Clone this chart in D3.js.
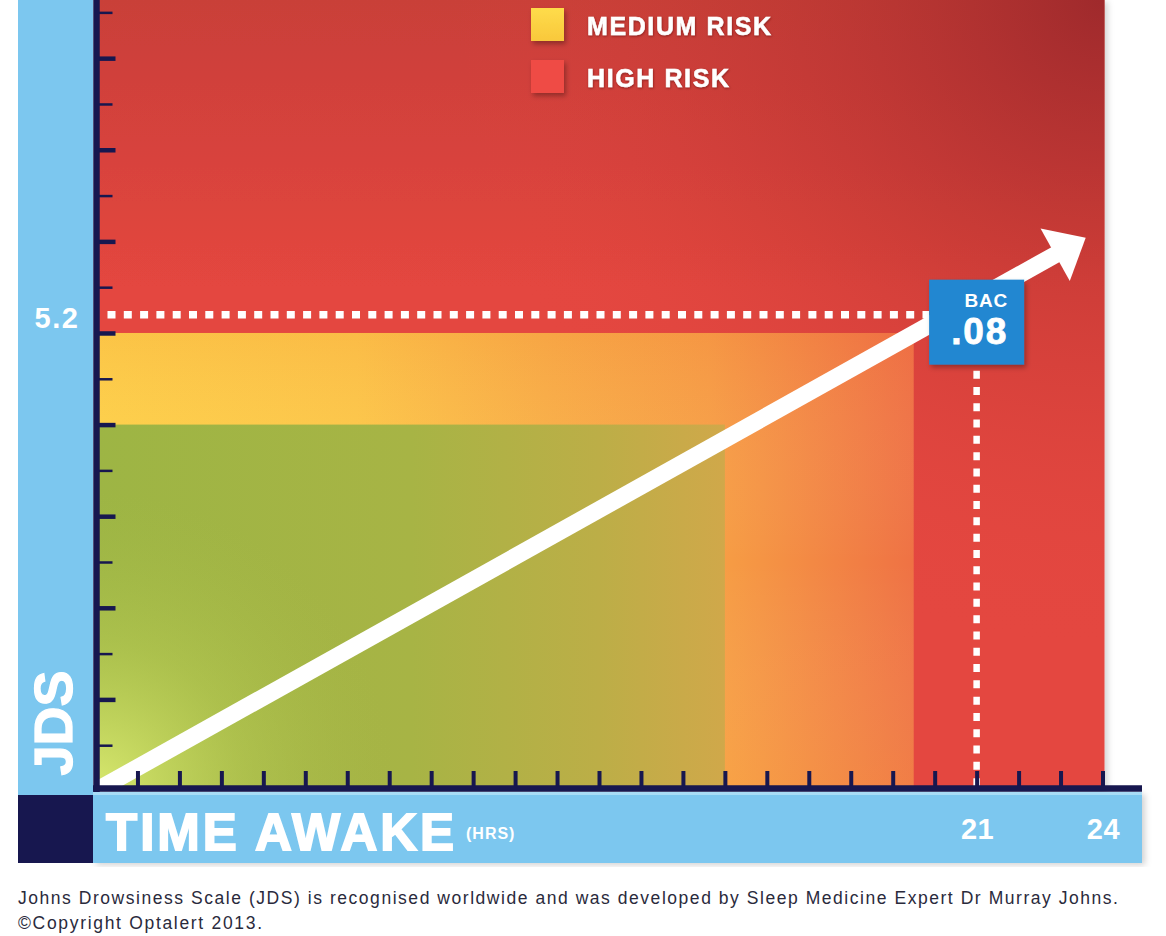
<!DOCTYPE html>
<html><head><meta charset="utf-8">
<script src="https://cdn.jsdelivr.net/npm/d3@7"></script>
<style>
body{margin:0;background:#fff;}
svg{display:block;font-family:"Liberation Sans",Arial,Helvetica,sans-serif;}
</style>
</head><body><svg id="c" width="1166" height="936"></svg>
<script>
// ---------------- data ----------------
const zoneNames   = ["HIGH RISK", "MEDIUM RISK", "LOW RISK"];
const zoneHrsMax  = [24, 19.5, 15];      // hours awake where each zone ends
const zoneJdsMax  = [8.635, 5, 4];       // JDS where each zone ends
const legendNames = ["MEDIUM RISK", "HIGH RISK"];
const trendHrs    = [0, 23.6];
const trendJds    = [0, 6.04];
const xTickValues = d3.range(1, 25);                 // 1..24 hrs
const yTickValues = d3.range(1, 18).map(i => i * 0.5); // 0.5..8.5 JDS
const xTickLabels = [21, 24];
const yTickLabels = ["5.2"];
const bacHrs = 21, bacJds = 5.2;
const bacLabel = "BAC", bacValue = ".08";
const footerLines = [
  "Johns Drowsiness Scale (JDS) is recognised worldwide and was developed by Sleep Medicine Expert Dr Murray Johns.",
  "\u00A9Copyright Optalert 2013."
];

// ---------------- setup ----------------
const svg = d3.select("#c");
const x = d3.scaleLinear().domain([0, 24]).range([95.5, 1102.5]);
const y = d3.scaleLinear().domain([0, 8.635]).range([791, 0]);
const NAVY = "#17174f", BLUE = "#7cc7ef";

const defs = svg.append("defs");
function lin(id, x1, y1, x2, y2, stops) {
  const g = defs.append("linearGradient").attr("id", id).attr("gradientUnits", "userSpaceOnUse")
    .attr("x1", x1).attr("y1", y1).attr("x2", x2).attr("y2", y2);
  stops.forEach(s => g.append("stop").attr("offset", s[0]).attr("stop-color", s[1]).attr("stop-opacity", s[2] == null ? 1 : s[2]));
}
function rad(id, cx, cy, r, stops) {
  const g = defs.append("radialGradient").attr("id", id).attr("gradientUnits", "userSpaceOnUse")
    .attr("cx", cx).attr("cy", cy).attr("r", r);
  stops.forEach(s => g.append("stop").attr("offset", s[0]).attr("stop-color", s[1]).attr("stop-opacity", s[2] == null ? 1 : s[2]));
}
lin("redV", 0, 0, 0, y(5.5), [[0, "#c93f39"], [1, "#e4463f"]]);
rad("redTR", x(24), 0, 650, [[0, "#98262a", 0.85], [0.6, "#b8332f", 0.25], [1, "#e4463f", 0]]);
lin("medH", x(0), 0, x(19.5), 0, [[0, "#fed447"], [0.32, "#fdca47"], [0.55, "#f9b145"], [0.75, "#f7a044"], [1, "#ef7244"]]);
lin("medV", 0, y(5), 0, y(0), [[0, "#e8503f", 0.12], [0.5, "#ffffff", 0], [1, "#ffd050", 0.12]]);
lin("greenH", x(0), 0, x(15), 0, [[0, "#9db544"], [0.5, "#a7b445"], [0.8, "#bcae47"], [1, "#d0a84a"]]);
rad("greenGlow", x(0), y(0), 300, [[0, "#dcec72", 0.95], [0.5, "#c4d65c", 0.35], [1, "#a8bb48", 0]]);
lin("legY", 0, 8, 0, 41, [[0, "#fedc4a"], [1, "#f9c83c"]]);

const sh = defs.append("filter").attr("id", "shadow").attr("x", "-30%").attr("y", "-30%").attr("width", "160%").attr("height", "160%");
sh.append("feDropShadow").attr("dx", 2).attr("dy", 3).attr("stdDeviation", 2.5).attr("flood-color", "#000").attr("flood-opacity", 0.3);
const tsh = defs.append("filter").attr("id", "tshadow").attr("x", "-10%").attr("y", "-30%").attr("width", "120%").attr("height", "160%");
tsh.append("feDropShadow").attr("dx", 0.5).attr("dy", 1).attr("stdDeviation", 1).attr("flood-color", "#5a1010").attr("flood-opacity", 0.6);
const psh = defs.append("filter").attr("id", "pshadow").attr("x", "-5%").attr("y", "-5%").attr("width", "110%").attr("height", "110%");
psh.append("feDropShadow").attr("dx", 3).attr("dy", 2).attr("stdDeviation", 3).attr("flood-color", "#000").attr("flood-opacity", 0.18);

defs.append("clipPath").attr("id", "plotClip").append("rect")
  .attr("x", x(0)).attr("y", 0).attr("width", x(24) + 2 - x(0)).attr("height", y(0));

// ---------------- zones ----------------
const plot = svg.append("g");
// high risk (background)
plot.append("rect").attr("x", x(0)).attr("y", y(zoneJdsMax[0])).attr("width", x(zoneHrsMax[0]) + 2 - x(0))
  .attr("height", y(0) - y(zoneJdsMax[0])).attr("fill", "url(#redV)").attr("filter", "url(#pshadow)");
plot.append("rect").attr("x", x(0)).attr("y", y(zoneJdsMax[0])).attr("width", x(zoneHrsMax[0]) + 2 - x(0))
  .attr("height", y(0) - y(zoneJdsMax[0])).attr("fill", "url(#redTR)");
// medium
plot.append("rect").attr("x", x(0)).attr("y", y(zoneJdsMax[1])).attr("width", x(zoneHrsMax[1]) - x(0))
  .attr("height", y(0) - y(zoneJdsMax[1])).attr("fill", "url(#medH)");
plot.append("rect").attr("x", x(0)).attr("y", y(zoneJdsMax[1])).attr("width", x(zoneHrsMax[1]) - x(0))
  .attr("height", y(0) - y(zoneJdsMax[1])).attr("fill", "url(#medV)");
// low
plot.append("rect").attr("x", x(0)).attr("y", y(zoneJdsMax[2])).attr("width", x(zoneHrsMax[2]) - x(0))
  .attr("height", y(0) - y(zoneJdsMax[2])).attr("fill", "url(#greenH)");
plot.append("rect").attr("x", x(0)).attr("y", y(zoneJdsMax[2])).attr("width", x(zoneHrsMax[2]) - x(0))
  .attr("height", y(0) - y(zoneJdsMax[2])).attr("fill", "url(#greenGlow)");

// ---------------- BAC guide lines ----------------
const boxW = 95, boxH = 85;
const boxX = x(bacHrs) - boxW / 2, boxY = y(bacJds) - 35;
plot.append("line").attr("x1", x(0) + 12).attr("x2", boxX).attr("y1", y(bacJds)).attr("y2", y(bacJds))
  .attr("stroke", "#fff").attr("stroke-width", 7.5).attr("stroke-dasharray", "8 8.3");
plot.append("line").attr("x1", x(bacHrs)).attr("x2", x(bacHrs)).attr("y1", boxY + boxH + 6).attr("y2", y(0))
  .attr("stroke", "#fff").attr("stroke-width", 6.5).attr("stroke-dasharray", "8 8.3");

// ---------------- trend arrow ----------------
const p0 = [x(trendHrs[0]), y(trendJds[0])], p1 = [x(trendHrs[1]), y(trendJds[1])];
const dx = p1[0] - p0[0], dy = p1[1] - p0[1], L = Math.hypot(dx, dy);
const u = [dx / L, dy / L], n = [-u[1], u[0]];
const headLen = 35, headHalf = 30, shaftW = 17;
const base = [p1[0] - u[0] * headLen, p1[1] - u[1] * headLen];
const shaftStart = [p0[0] - u[0] * 20, p0[1] - u[1] * 20];
const ag = plot.append("g").attr("clip-path", "url(#plotClip)");
ag.append("path").attr("d", d3.line()([shaftStart, [base[0] + u[0] * 2, base[1] + u[1] * 2]]))
  .attr("stroke", "#fff").attr("stroke-width", shaftW).attr("fill", "none");
ag.append("path").attr("d", d3.line()([
  [base[0] + n[0] * headHalf, base[1] + n[1] * headHalf], p1,
  [base[0] - n[0] * headHalf, base[1] - n[1] * headHalf]]) + "Z").attr("fill", "#fff");

// ---------------- BAC box ----------------
plot.append("rect").attr("x", boxX).attr("y", boxY).attr("width", boxW).attr("height", boxH)
  .attr("fill", "#2087d1").attr("filter", "url(#shadow)");
plot.append("text").attr("x", boxX + boxW - 16).attr("y", boxY + 27).attr("text-anchor", "end")
  .attr("fill", "#fff").attr("font-weight", "bold").attr("font-size", 19).attr("letter-spacing", 0.8).text(bacLabel);
plot.append("text").attr("x", boxX + boxW - 16).attr("y", boxY + 64).attr("text-anchor", "end")
  .attr("fill", "#fff").attr("font-weight", "bold").attr("font-size", 37).attr("letter-spacing", 1.8)
  .attr("stroke", "#fff").attr("stroke-width", 0.8).text(bacValue);

// ---------------- legend ----------------
const leg = svg.append("g");
const legFill = {"MEDIUM RISK": "url(#legY)", "HIGH RISK": "#ef4b44"};
legendNames.forEach((name, i) => {
  const gy = 8 + i * 52;
  leg.append("rect").attr("x", 531).attr("y", gy).attr("width", 33).attr("height", 33)
    .attr("fill", legFill[name]).attr("filter", "url(#shadow)");
  leg.append("text").attr("x", 587).attr("y", gy + 27).attr("fill", "#fff").attr("font-weight", "bold")
    .attr("font-size", 25).attr("letter-spacing", 1.6).attr("stroke", "#fff").attr("stroke-width", 0.5)
    .attr("filter", "url(#tshadow)").text(name);
});

// ---------------- frame bands ----------------
svg.append("rect").attr("x", 18).attr("y", 0).attr("width", 75).attr("height", 795).attr("fill", BLUE);
svg.append("rect").attr("x", 93).attr("y", 792).attr("width", 1049).attr("height", 71).attr("fill", BLUE).attr("filter", "url(#pshadow)");
svg.append("rect").attr("x", 93).attr("y", 792).attr("width", 1049).attr("height", 3).attr("fill", "#a8dcf6");
svg.append("rect").attr("x", 18).attr("y", 795).attr("width", 75).attr("height", 68).attr("fill", NAVY);

// ---------------- axes ----------------
const xAxis = d3.axisTop(x).tickValues(xTickValues).tickSize(18).tickFormat("");
const gx = svg.append("g").attr("transform", `translate(0,${y(0) - 2})`).call(xAxis);
gx.select(".domain").remove();
gx.selectAll(".tick line").attr("stroke", NAVY).attr("stroke-width", 4);

const yMajor = yTickValues.filter(v => Number.isInteger(v));
const yMinor = yTickValues.filter(v => !Number.isInteger(v));
const gyMaj = svg.append("g").attr("transform", `translate(${x(0) + 1},0)`)
  .call(d3.axisRight(y).tickValues(yMajor).tickSize(19).tickFormat(""));
gyMaj.select(".domain").remove();
gyMaj.selectAll(".tick line").attr("stroke", NAVY).attr("stroke-width", 4.5);
const gyMin = svg.append("g").attr("transform", `translate(${x(0) + 1},0)`)
  .call(d3.axisRight(y).tickValues(yMinor).tickSize(16).tickFormat(""));
gyMin.select(".domain").remove();
gyMin.selectAll(".tick line").attr("stroke", NAVY).attr("stroke-width", 2.5);

// axis lines
svg.append("line").attr("x1", x(0) + 1).attr("x2", x(0) + 1).attr("y1", 0).attr("y2", y(0) + 1)
  .attr("stroke", NAVY).attr("stroke-width", 6.5);
svg.append("line").attr("x1", 93).attr("x2", 1142).attr("y1", y(0) - 2.5).attr("y2", y(0) - 2.5)
  .attr("stroke", NAVY).attr("stroke-width", 6.5);

// ---------------- labels ----------------
svg.selectAll(".xlab").data(xTickLabels).enter().append("text").attr("class", "xlab")
  .attr("x", d => x(d) + 1).attr("y", 839).attr("text-anchor", "middle").attr("fill", "#fff")
  .attr("font-weight", "bold").attr("font-size", 29).attr("letter-spacing", 0.5).text(d => d);
svg.selectAll(".ylab").data(yTickLabels).enter().append("text").attr("class", "ylab")
  .attr("x", 57).attr("y", d => y(+d) + 13.5).attr("text-anchor", "middle").attr("fill", "#fff")
  .attr("font-weight", "bold").attr("font-size", 29).attr("letter-spacing", 1.5).text(d => d);

svg.append("text").attr("transform", "translate(72,723) rotate(-90)").attr("text-anchor", "middle")
  .attr("fill", "#fff").attr("font-weight", "bold").attr("font-size", 54)
  .attr("stroke", "#fff").attr("stroke-width", 1.2).text("JDS");
svg.append("text").attr("x", 106).attr("y", 850).attr("fill", "#fff").attr("font-weight", "bold")
  .attr("font-size", 51).attr("letter-spacing", 3).attr("stroke", "#fff").attr("stroke-width", 1.8).text("TIME AWAKE");
svg.append("text").attr("x", 466).attr("y", 839).attr("fill", "#fff").attr("font-weight", "bold")
  .attr("font-size", 16).attr("letter-spacing", 1).text("(HRS)");

// ---------------- footer ----------------
const footW = [1100, 244];
footerLines.forEach((t, i) => {
  svg.append("text").attr("x", 18).attr("y", 904 + i * 25).attr("fill", "#2a2a3c")
    .attr("font-size", 17.5).attr("textLength", footW[i]).attr("lengthAdjust", "spacing").text(t);
});
</script>
</body></html>
